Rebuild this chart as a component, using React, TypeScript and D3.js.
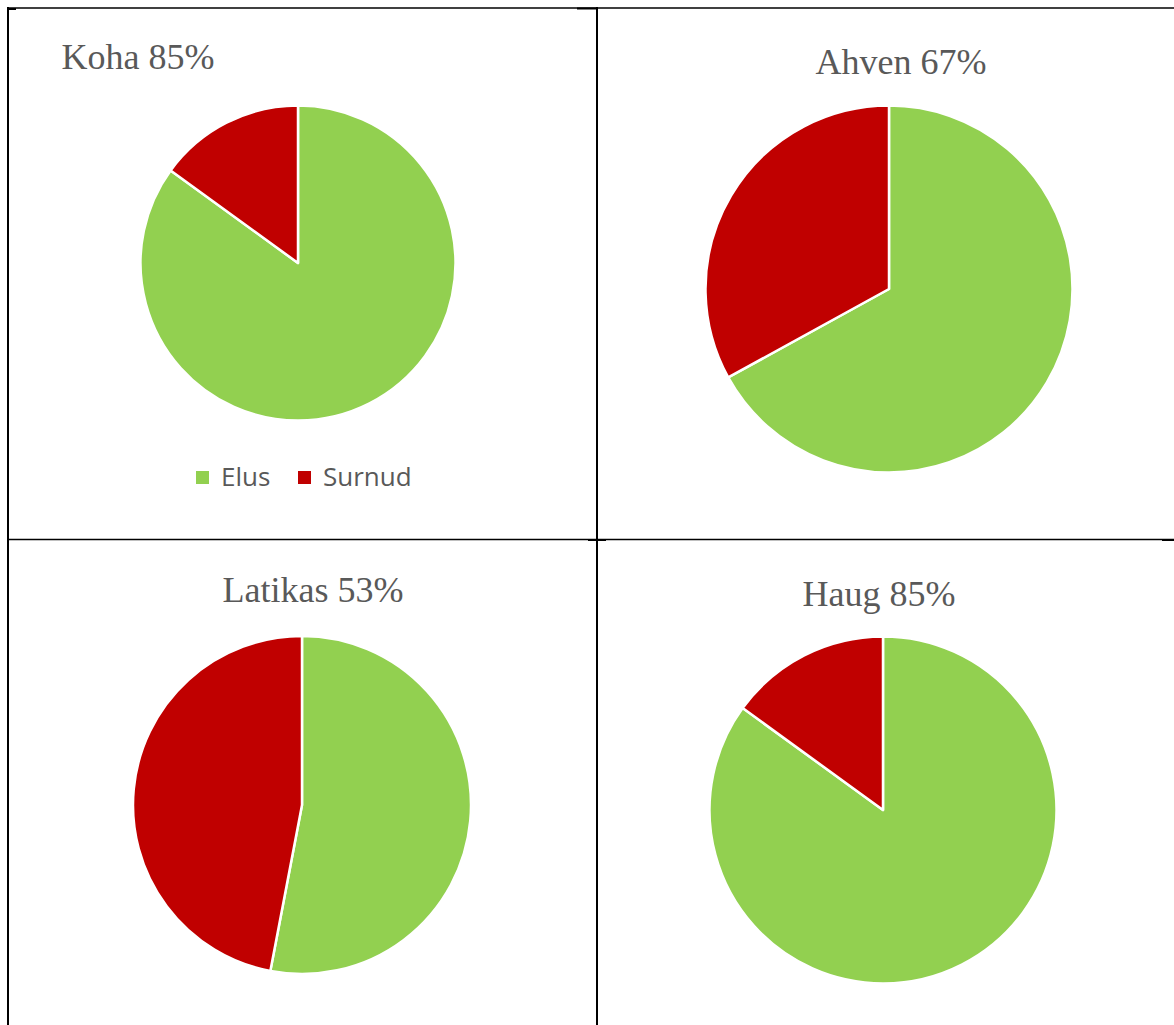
import React from "react";
import * as d3 from "d3";

const species = ["Koha", "Ahven", "Latikas", "Haug"];
const alivePct = [85, 67, 53, 85];
const categories = ["Elus", "Surnud"];
const colors = ["#92D050", "#C00000"];

const W = 1174;
const H = 1025;

// layout per panel (pie center, radius, title position)
const panels = [
  { cx: 298, cy: 263, r: 157.5, tx: 138, ty: 69 },
  { cx: 889, cy: 289, r: 183.5, tx: 901, ty: 74 },
  { cx: 302, cy: 805, r: 169, tx: 313, ty: 602 },
  { cx: 883, cy: 810, r: 173.5, tx: 879, ty: 606 },
];

export default function App() {
  const pie = d3
    .pie<number>()
    .sort(null)
    .value((d) => d)
    .startAngle(0)
    .endAngle(2 * Math.PI);

  return (
    <svg
      width={W}
      height={H}
      style={{ position: "absolute", left: 0, top: 0, background: "#fff" }}
    >
      <rect x={0} y={0} width={W} height={H} fill="#fff" />
      {/* table lines */}
      <g stroke="#000">
        <line x1={7} y1={8} x2={W} y2={8} strokeWidth={1.5} />
        <line x1={8} y1={7} x2={8} y2={H} strokeWidth={2} />
        <line x1={597} y1={7} x2={597} y2={H} strokeWidth={2} />
        <line x1={8} y1={539.5} x2={W} y2={539.5} strokeWidth={1.5} />
        <line x1={8} y1={9} x2={16} y2={9} strokeWidth={2} />
        <line x1={577} y1={8.5} x2={598} y2={8.5} strokeWidth={2} />
        <line x1={588} y1={540} x2={606} y2={540} strokeWidth={2} />
        <line x1={1162} y1={540} x2={W} y2={540} strokeWidth={2} />
      </g>
      {species.map((name, i) => {
        const p = panels[i];
        const vals = [alivePct[i], 100 - alivePct[i]];
        const arcs = pie(vals);
        const arc = d3.arc<d3.PieArcDatum<number>>().innerRadius(0).outerRadius(p.r);
        return (
          <g key={name}>
            <g transform={`translate(${p.cx},${p.cy})`}>
              {arcs.map((a, j) => (
                <path
                  key={j}
                  d={arc(a) || ""}
                  fill={colors[j]}
                  stroke="#fff"
                  strokeWidth={2.5}
                  strokeLinejoin="round"
                />
              ))}
            </g>
            <text
              x={p.tx}
              y={p.ty}
              textAnchor="middle"
              fontFamily="'Liberation Serif', 'Times New Roman', serif"
              fontSize={36}
              fill="#595959"
            >
              {`${name} ${alivePct[i]}%`}
            </text>
          </g>
        );
      })}
      {/* legend */}
      <g fontFamily="'Open Sans', 'Noto Sans', sans-serif" fontSize={26} fill="#595959">
        {categories.map((c, j) => {
          const lx = [196, 298][j];
          return (
            <g key={c}>
              <rect x={lx} y={471} width={13} height={13} fill={colors[j]} />
              <text x={lx + 25} y={486}>
                {c}
              </text>
            </g>
          );
        })}
      </g>
    </svg>
  );
}
